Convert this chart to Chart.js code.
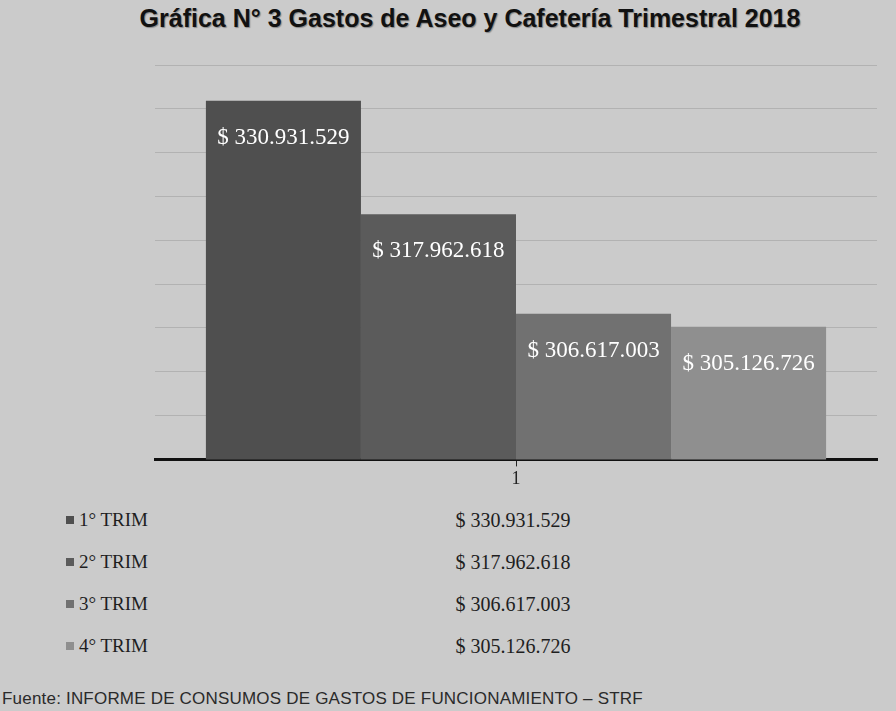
<!DOCTYPE html>
<html>
<head>
<meta charset="utf-8">
<script src="https://cdn.jsdelivr.net/npm/chart.js@4/dist/chart.umd.min.js"></script>
<style>
  html, body { margin: 0; padding: 0; }
  body { width: 896px; height: 711px; overflow: hidden; position: relative; background: #cbcbcb; }
  #title { position: absolute; left: 44px; width: 852px; top: 4px; text-align: center;
           font: bold 25px "Liberation Sans", Arial, sans-serif; color: #111; line-height: 28px;
           text-shadow: 1px 1px 1px #888; }
  #wrap { position: absolute; left: 0; top: 0; width: 896px; height: 492px; }
  .row { position: absolute; height: 24px; line-height: 24px; color: #1e1e1e; white-space: nowrap; }
  .key { left: 66px; font: 19px "Liberation Serif", serif; }
  .key i { display: inline-block; width: 8px; height: 8px; margin-right: 5px; vertical-align: 2px; }
  .val { left: 413px; width: 200px; text-align: center; font: 20px "Liberation Serif", serif; }
  #source { position: absolute; left: 2px; top: 689px; font: 17px "Liberation Sans", Arial, sans-serif;
            color: #2a2a2a; line-height: 20px; white-space: nowrap; letter-spacing: 0.2px; }
</style>
</head>
<body>
<div id="title">Gráfica N° 3 Gastos de Aseo y Cafetería Trimestral 2018</div>
<div id="wrap"><canvas id="c" width="896" height="492"></canvas></div>
<div id="table"></div>
<div id="source">Fuente: INFORME DE CONSUMOS DE GASTOS DE FUNCIONAMIENTO – STRF</div>
<script>
// ---- data ----
const categories = ['1'];
const seriesNames = ['1° TRIM', '2° TRIM', '3° TRIM', '4° TRIM'];
const trim1 = [330931529];
const trim2 = [317962618];
const trim3 = [306617003];
const trim4 = [305126726];
const yTickMin = 290000000;
const yTickMax = 335000000;
const yTickStep = 5000000;

const seriesValues = [trim1, trim2, trim3, trim4];
const seriesColors = ['#4f4f4f', '#5b5b5b', '#717171', '#8f8f8f'];

function fmt(v) {
  return '$ ' + String(Math.round(v)).replace(/\B(?=(\d{3})+(?!\d))/g, '.');
}

// data table (HTML text)
const table = document.getElementById('table');
const rowCenters = [521, 563, 605, 647];
seriesNames.forEach((name, i) => {
  const k = document.createElement('div');
  k.className = 'row key';
  k.style.top = (rowCenters[i] - 12) + 'px';
  k.innerHTML = '<i style="background:' + seriesColors[i] + '"></i>' + name;
  table.appendChild(k);
  const v = document.createElement('div');
  v.className = 'row val';
  v.style.top = (rowCenters[i] - 12) + 'px';
  v.textContent = fmt(seriesValues[i][0]);
  table.appendChild(v);
});

const barLabels = {
  id: 'barLabels',
  afterDatasetsDraw(chart) {
    const ctx = chart.ctx;
    ctx.save();
    ctx.fillStyle = '#ffffff';
    ctx.font = '23px "Liberation Serif", serif';
    ctx.textAlign = 'center';
    ctx.textBaseline = 'middle';
    chart.data.datasets.forEach((ds, i) => {
      const meta = chart.getDatasetMeta(i);
      meta.data.forEach((el, j) => {
        ctx.fillText(fmt(ds.data[j]), el.x, el.y + 37);
      });
    });
    ctx.restore();
  }
};

new Chart(document.getElementById('c'), {
  type: 'bar',
  data: {
    labels: categories,
    datasets: seriesNames.map((n, i) => ({
      label: n,
      data: seriesValues[i],
      backgroundColor: seriesColors[i],
      borderWidth: 0,
      categoryPercentage: 0.859,
      barPercentage: 1.0
    }))
  },
  options: {
    responsive: false,
    animation: false,
    devicePixelRatio: 1,
    layout: { padding: { left: 155, right: 19, top: 65, bottom: 0 } },
    plugins: {
      legend: { display: false },
      title: { display: false },
      tooltip: { enabled: false }
    },
    scales: {
      x: {
        grid: { display: true, drawOnChartArea: false, offset: false, tickLength: 7, color: '#222', lineWidth: 1 },
        border: { display: true, color: '#111', width: 3 },
        ticks: { color: '#222', padding: 2, font: { family: '"Liberation Serif", serif', size: 18 } }
      },
      y: {
        min: yTickMin,
        max: yTickMax,
        ticks: { display: false, stepSize: yTickStep },
        grid: { color: '#b2b2b2', drawTicks: false, lineWidth: 1 },
        border: { display: false }
      }
    }
  },
  plugins: [barLabels]
});
</script>
</body>
</html>
